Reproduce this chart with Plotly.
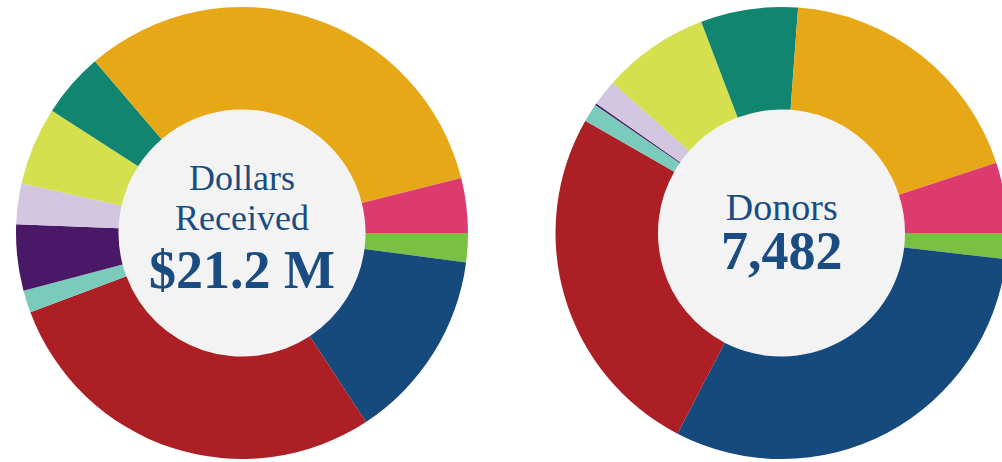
import plotly.graph_objects as go

# ---- data ----
categories = ["Green", "Blue", "Red", "Light teal", "Purple", "Lavender",
              "Yellow-green", "Teal", "Orange", "Pink"]
dollars_m = [0.44, 2.90, 6.05, 0.34, 1.00, 0.62, 1.18, 0.98, 6.86, 0.83]
donors = [139, 2301, 1920, 98, 10, 139, 572, 520, 1407, 376]
colors = ["#7AC143", "#174A7C", "#AB1F25", "#7ACBBC", "#491866", "#D3C6E1",
          "#D5E04F", "#128570", "#E6A817", "#DD3B6E"]
center_texts_left = ["Dollars", "Received", "$21.2 M"]
center_texts_right = ["Donors", "7,482"]

W, H = 1008, 462
R = 226
HOLE_R = 123.5
CY = 233
CX_L, CX_R = 242, 781.5
TEXT_COLOR = "#1A4C82"
FONT = "Liberation Serif"


def dom_x(cx):
    return [(cx - R) / W, (cx + R) / W]


dom_y = [(H - CY - R) / H, (H - CY + R) / H]

fig = go.Figure()
for vals, cx in ((dollars_m, CX_L), (donors, CX_R)):
    fig.add_trace(go.Pie(
        labels=categories, values=vals, sort=False, direction="clockwise",
        rotation=90, hole=HOLE_R / R, textinfo="none",
        marker=dict(colors=colors, line=dict(width=0)),
        domain=dict(x=dom_x(cx), y=dom_y), showlegend=False,
    ))

shapes = []
for cx in (CX_L, CX_R):
    shapes.append(dict(type="circle", xref="paper", yref="paper",
                       xsizemode="pixel", ysizemode="pixel",
                       xanchor=cx / W, yanchor=(H - CY) / H,
                       x0=-HOLE_R, x1=HOLE_R, y0=-HOLE_R, y1=HOLE_R,
                       fillcolor="#F3F3F3", line=dict(width=0), layer="below"))


def ann(text, cx, py, size):
    return dict(text=text, x=cx / W, y=(H - py) / H,
                xref="paper", yref="paper", xanchor="center", yanchor="middle",
                showarrow=False, font=dict(family=FONT, size=size, color=TEXT_COLOR))


annotations = [
    ann(center_texts_left[0], CX_L, 178, 36),
    ann(center_texts_left[1], CX_L, 218, 36),
    ann(f"<b>{center_texts_left[2]}</b>", CX_L, 270, 54),
    ann(f"{center_texts_right[0]}<br><b><span style='font-size:54px'>"
        f"{center_texts_right[1]}</span></b>", CX_R, 233.5, 38),
]

fig.update_layout(width=W, height=H, margin=dict(l=0, r=0, t=0, b=0),
                  paper_bgcolor="white", plot_bgcolor="white",
                  shapes=shapes, annotations=annotations)

fig.write_html("out.html", config={"displayModeBar": False},
               post_script="document.body.style.margin='0';"
                           "document.body.style.overflow='hidden';")
